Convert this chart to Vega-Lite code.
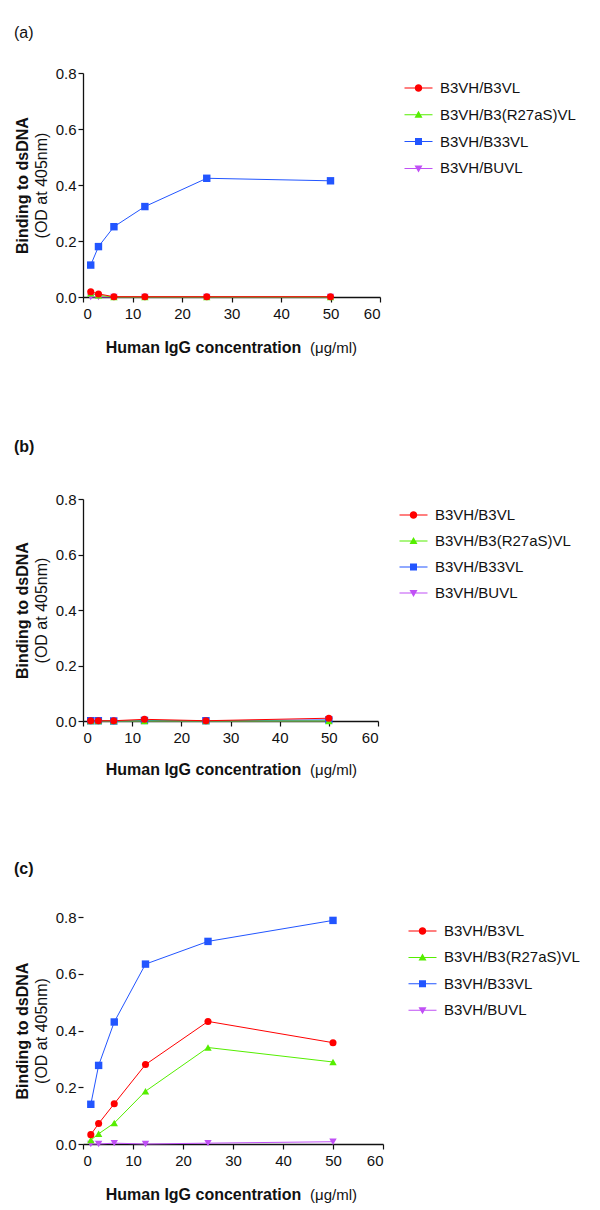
{
  "$schema": "https://vega.github.io/schema/vega-lite/v6.json",
  "background": "white",
  "padding": {"left": 14, "top": 25, "right": 5, "bottom": 5},
  "config": {
    "font": "Liberation Sans",
    "view": {"stroke": null},
    "axis": {"grid": false, "labelFontSize": 15, "labelColor": "#111", "domainColor": "#111", "tickColor": "#111", "domainWidth": 1.3, "tickWidth": 1.2, "tickSize": 5, "labelFont": "Liberation Sans", "titleFont": "Liberation Sans", "titleColor": "#111"},
    "title": {"font": "Liberation Sans", "fontSize": 16, "color": "#111", "anchor": "start", "frame": "bounds"},
    "legend": {"labelFont": "Liberation Sans", "labelFontSize": 15, "labelColor": "#111", "title": null, "orient": "none", "padding": 0, "symbolSize": 100, "symbolStrokeWidth": 0, "labelOffset": 14, "symbolOpacity": 1}
  },
  "datasets": {
    "a": [
      {"series": "B3VH/BUVL", "conc": 1.5625, "od": 0.0},
      {"series": "B3VH/BUVL", "conc": 3.125, "od": 0.0},
      {"series": "B3VH/BUVL", "conc": 6.25, "od": 0.0},
      {"series": "B3VH/BUVL", "conc": 12.5, "od": 0.0},
      {"series": "B3VH/BUVL", "conc": 25, "od": 0.0},
      {"series": "B3VH/BUVL", "conc": 50, "od": 0.0},
      {"series": "B3VH/B33VL", "conc": 1.5625, "od": 0.114},
      {"series": "B3VH/B33VL", "conc": 3.125, "od": 0.18},
      {"series": "B3VH/B33VL", "conc": 6.25, "od": 0.251},
      {"series": "B3VH/B33VL", "conc": 12.5, "od": 0.323},
      {"series": "B3VH/B33VL", "conc": 25, "od": 0.424},
      {"series": "B3VH/B33VL", "conc": 50, "od": 0.415},
      {"series": "B3VH/B3(R27aS)VL", "conc": 1.5625, "od": 0.013},
      {"series": "B3VH/B3(R27aS)VL", "conc": 3.125, "od": 0.006},
      {"series": "B3VH/B3(R27aS)VL", "conc": 6.25, "od": 0.0},
      {"series": "B3VH/B3(R27aS)VL", "conc": 12.5, "od": 0.0},
      {"series": "B3VH/B3(R27aS)VL", "conc": 25, "od": 0.0},
      {"series": "B3VH/B3(R27aS)VL", "conc": 50, "od": 0.0},
      {"series": "B3VH/B3VL", "conc": 1.5625, "od": 0.019},
      {"series": "B3VH/B3VL", "conc": 3.125, "od": 0.011},
      {"series": "B3VH/B3VL", "conc": 6.25, "od": 0.001},
      {"series": "B3VH/B3VL", "conc": 12.5, "od": 0.001},
      {"series": "B3VH/B3VL", "conc": 25, "od": 0.001},
      {"series": "B3VH/B3VL", "conc": 50, "od": 0.001}
    ],
    "b": [
      {"series": "B3VH/BUVL", "conc": 1.5625, "od": 0.0},
      {"series": "B3VH/BUVL", "conc": 3.125, "od": 0.0},
      {"series": "B3VH/BUVL", "conc": 6.25, "od": 0.0},
      {"series": "B3VH/BUVL", "conc": 12.5, "od": 0.0},
      {"series": "B3VH/BUVL", "conc": 25, "od": 0.0},
      {"series": "B3VH/BUVL", "conc": 50, "od": 0.0},
      {"series": "B3VH/B33VL", "conc": 1.5625, "od": 0.001},
      {"series": "B3VH/B33VL", "conc": 3.125, "od": 0.001},
      {"series": "B3VH/B33VL", "conc": 6.25, "od": 0.0},
      {"series": "B3VH/B33VL", "conc": 12.5, "od": 0.002},
      {"series": "B3VH/B33VL", "conc": 25, "od": 0.001},
      {"series": "B3VH/B33VL", "conc": 50, "od": 0.004},
      {"series": "B3VH/B3(R27aS)VL", "conc": 1.5625, "od": 0.0},
      {"series": "B3VH/B3(R27aS)VL", "conc": 3.125, "od": 0.0},
      {"series": "B3VH/B3(R27aS)VL", "conc": 6.25, "od": 0.0},
      {"series": "B3VH/B3(R27aS)VL", "conc": 12.5, "od": 0.0},
      {"series": "B3VH/B3(R27aS)VL", "conc": 25, "od": 0.0},
      {"series": "B3VH/B3(R27aS)VL", "conc": 50, "od": 0.0},
      {"series": "B3VH/B3VL", "conc": 1.5625, "od": 0.001},
      {"series": "B3VH/B3VL", "conc": 3.125, "od": 0.001},
      {"series": "B3VH/B3VL", "conc": 6.25, "od": 0.001},
      {"series": "B3VH/B3VL", "conc": 12.5, "od": 0.006},
      {"series": "B3VH/B3VL", "conc": 25, "od": 0.001},
      {"series": "B3VH/B3VL", "conc": 50, "od": 0.01}
    ],
    "c": [
      {"series": "B3VH/BUVL", "conc": 1.5625, "od": 0.0},
      {"series": "B3VH/BUVL", "conc": 3.125, "od": 0.0},
      {"series": "B3VH/BUVL", "conc": 6.25, "od": 0.003},
      {"series": "B3VH/BUVL", "conc": 12.5, "od": 0.0},
      {"series": "B3VH/BUVL", "conc": 25, "od": 0.003},
      {"series": "B3VH/BUVL", "conc": 50, "od": 0.008},
      {"series": "B3VH/B33VL", "conc": 1.5625, "od": 0.14},
      {"series": "B3VH/B33VL", "conc": 3.125, "od": 0.277},
      {"series": "B3VH/B33VL", "conc": 6.25, "od": 0.43},
      {"series": "B3VH/B33VL", "conc": 12.5, "od": 0.634},
      {"series": "B3VH/B33VL", "conc": 25, "od": 0.714},
      {"series": "B3VH/B33VL", "conc": 50, "od": 0.788},
      {"series": "B3VH/B3(R27aS)VL", "conc": 1.5625, "od": 0.014},
      {"series": "B3VH/B3(R27aS)VL", "conc": 3.125, "od": 0.036},
      {"series": "B3VH/B3(R27aS)VL", "conc": 6.25, "od": 0.074},
      {"series": "B3VH/B3(R27aS)VL", "conc": 12.5, "od": 0.186},
      {"series": "B3VH/B3(R27aS)VL", "conc": 25, "od": 0.34},
      {"series": "B3VH/B3(R27aS)VL", "conc": 50, "od": 0.289},
      {"series": "B3VH/B3VL", "conc": 1.5625, "od": 0.033},
      {"series": "B3VH/B3VL", "conc": 3.125, "od": 0.072},
      {"series": "B3VH/B3VL", "conc": 6.25, "od": 0.142},
      {"series": "B3VH/B3VL", "conc": 12.5, "od": 0.28},
      {"series": "B3VH/B3VL", "conc": 25, "od": 0.432},
      {"series": "B3VH/B3VL", "conc": 50, "od": 0.357}
    ]
  },
  "spacing": 84,
  "resolve": {"scale": {"color": "independent", "shape": "independent", "fill": "independent", "stroke": "independent"}, "legend": {"color": "independent", "shape": "independent", "fill": "independent", "stroke": "independent"}},
  "vconcat": [
    {
      "title": {"text": "(a)", "fontWeight": "normal", "offset": 25},
      "width": 297, "height": 224,
      "data": {"name": "a"},
      "resolve": {"axis": {"x": "independent", "y": "independent"}},
      "layer": [
        {
          "mark": {"type": "line", "strokeWidth": 1},
          "encoding": {
            "x": {"field": "conc", "type": "quantitative", "scale": {"domain": [0, 60], "nice": false}, "axis": {"values": [0, 10, 20, 30, 40, 50, 60], "labelPadding": 4, "title": "Human IgG concentration", "titleFontSize": 16, "titleFontWeight": "bold", "titleX": 120, "titleY": 55, "titleBaseline": "alphabetic"}},
            "y": {"field": "od", "type": "quantitative", "scale": {"domain": [0, 0.8], "nice": false}, "axis": {"values": [0, 0.2, 0.4, 0.6, 0.8], "format": ".1f", "labelPadding": 2, "title": "(OD at 405nm)", "titleFontSize": 16, "titleFontWeight": "normal", "titlePadding": 6}},
            "stroke": {"field": "series", "type": "nominal", "scale": {"domain": ["B3VH/BUVL", "B3VH/B33VL", "B3VH/B3(R27aS)VL", "B3VH/B3VL"], "range": ["#c050f5", "#2255ff", "#55ee00", "#ff0000"]}, "legend": null}
          }
        },
        {
          "transform": [{"filter": "datum.series == 'B3VH/BUVL'"}],
          "mark": {"type": "point", "filled": true, "opacity": 1, "size": 55, "shape": "triangle-down"},
          "encoding": {
            "x": {"field": "conc", "type": "quantitative", "axis": null},
            "y": {"field": "od", "type": "quantitative", "axis": null},
            "fill": {"field": "series", "type": "nominal", "scale": {"domain": ["B3VH/B33VL", "B3VH/B3VL", "B3VH/BUVL", "B3VH/B3(R27aS)VL"], "range": ["#2255ff", "#ff0000", "#c050f5", "#55ee00"]}, "legend": null}
          }
        },
        {
          "transform": [{"filter": "datum.series == 'B3VH/B33VL'"}],
          "mark": {"type": "point", "filled": true, "opacity": 1, "size": 55, "shape": "square"},
          "encoding": {
            "x": {"field": "conc", "type": "quantitative", "axis": null},
            "y": {"field": "od", "type": "quantitative", "axis": null},
            "fill": {"field": "series", "type": "nominal", "legend": null}
          }
        },
        {
          "transform": [{"filter": "datum.series == 'B3VH/B3(R27aS)VL'"}],
          "mark": {"type": "point", "filled": true, "opacity": 1, "size": 55, "shape": "triangle-up"},
          "encoding": {
            "x": {"field": "conc", "type": "quantitative", "axis": null},
            "y": {"field": "od", "type": "quantitative", "axis": null},
            "fill": {"field": "series", "type": "nominal", "legend": null}
          }
        },
        {
          "transform": [{"filter": "datum.series == 'B3VH/B3VL'"}],
          "mark": {"type": "point", "filled": true, "opacity": 1, "size": 50, "shape": "circle"},
          "encoding": {
            "x": {"field": "conc", "type": "quantitative", "axis": null},
            "y": {"field": "od", "type": "quantitative", "axis": null},
            "fill": {"field": "series", "type": "nominal", "legend": null}
          }
        },
        {
          "transform": [{"filter": "false"}],
          "mark": {"type": "point", "filled": true, "opacity": 1},
          "encoding": {
            "x": {"field": "conc", "type": "quantitative", "axis": {"orient": "bottom", "labels": false, "ticks": false, "domain": false, "title": "(μg/ml)", "titleFontSize": 15, "titleFontWeight": "normal", "titleX": 250, "titleY": 55, "titleBaseline": "alphabetic"}},
            "y": {"field": "od", "type": "quantitative", "axis": {"orient": "left", "labels": false, "ticks": false, "domain": false, "title": "Binding to dsDNA", "titleFontSize": 16, "titleFontWeight": "bold", "titlePadding": 53}},
            "color": {"field": "series", "type": "nominal", "scale": {"domain": ["B3VH/B3VL", "B3VH/B3(R27aS)VL", "B3VH/B33VL", "B3VH/BUVL"], "range": ["#ff0000", "#55ee00", "#2255ff", "#c050f5"]}, "legend": {"legendX": 328, "legendY": 7.5, "rowPadding": 10.8}},
            "shape": {"field": "series", "type": "nominal", "scale": {"domain": ["B3VH/B3VL", "B3VH/B3(R27aS)VL", "B3VH/B33VL", "B3VH/BUVL"], "range": ["M-2.8,-0.1H2.8V0.1H-2.8ZM0.75,0A0.75,0.75,0,1,1,-0.75,0A0.75,0.75,0,1,1,0.75,0Z", "M-2.8,-0.1H2.8V0.1H-2.8ZM0,-0.8L0.8,0.6L-0.8,0.6Z", "M-2.8,-0.1H2.8V0.1H-2.8ZM-0.7,-0.7H0.7V0.7H-0.7Z", "M-2.8,-0.1H2.8V0.1H-2.8ZM0,0.8L-0.8,-0.6L0.8,-0.6Z"]}, "legend": {"legendX": 328, "legendY": 7.5, "rowPadding": 10.8}}
          }
        }
      ]
    },
    {
      "title": {"text": "(b)", "fontWeight": "bold", "offset": 37},
      "width": 295, "height": 222,
      "data": {"name": "b"},
      "resolve": {"axis": {"x": "independent", "y": "independent"}},
      "layer": [
        {
          "mark": {"type": "line", "strokeWidth": 1},
          "encoding": {
            "x": {"field": "conc", "type": "quantitative", "scale": {"domain": [0, 60], "nice": false}, "axis": {"values": [0, 10, 20, 30, 40, 50, 60], "labelPadding": 4, "title": "Human IgG concentration", "titleFontSize": 16, "titleFontWeight": "bold", "titleX": 120, "titleY": 53, "titleBaseline": "alphabetic"}},
            "y": {"field": "od", "type": "quantitative", "scale": {"domain": [0, 0.8], "nice": false}, "axis": {"values": [0, 0.2, 0.4, 0.6, 0.8], "format": ".1f", "labelPadding": 2, "title": "(OD at 405nm)", "titleFontSize": 16, "titleFontWeight": "normal", "titlePadding": 6}},
            "stroke": {"field": "series", "type": "nominal", "scale": {"domain": ["B3VH/BUVL", "B3VH/B33VL", "B3VH/B3(R27aS)VL", "B3VH/B3VL"], "range": ["#c050f5", "#2255ff", "#55ee00", "#ff0000"]}, "legend": null}
          }
        },
        {
          "transform": [{"filter": "datum.series == 'B3VH/BUVL'"}],
          "mark": {"type": "point", "filled": true, "opacity": 1, "size": 55, "shape": "triangle-down"},
          "encoding": {
            "x": {"field": "conc", "type": "quantitative", "axis": null},
            "y": {"field": "od", "type": "quantitative", "axis": null},
            "fill": {"field": "series", "type": "nominal", "scale": {"domain": ["B3VH/B33VL", "B3VH/B3VL", "B3VH/BUVL", "B3VH/B3(R27aS)VL"], "range": ["#2255ff", "#ff0000", "#c050f5", "#55ee00"]}, "legend": null}
          }
        },
        {
          "transform": [{"filter": "datum.series == 'B3VH/B33VL'"}],
          "mark": {"type": "point", "filled": true, "opacity": 1, "size": 55, "shape": "square"},
          "encoding": {
            "x": {"field": "conc", "type": "quantitative", "axis": null},
            "y": {"field": "od", "type": "quantitative", "axis": null},
            "fill": {"field": "series", "type": "nominal", "legend": null}
          }
        },
        {
          "transform": [{"filter": "datum.series == 'B3VH/B3(R27aS)VL'"}],
          "mark": {"type": "point", "filled": true, "opacity": 1, "size": 55, "shape": "triangle-up"},
          "encoding": {
            "x": {"field": "conc", "type": "quantitative", "axis": null},
            "y": {"field": "od", "type": "quantitative", "axis": null},
            "fill": {"field": "series", "type": "nominal", "legend": null}
          }
        },
        {
          "transform": [{"filter": "datum.series == 'B3VH/B3VL'"}],
          "mark": {"type": "point", "filled": true, "opacity": 1, "size": 50, "shape": "circle"},
          "encoding": {
            "x": {"field": "conc", "type": "quantitative", "axis": null},
            "y": {"field": "od", "type": "quantitative", "axis": null},
            "fill": {"field": "series", "type": "nominal", "legend": null}
          }
        },
        {
          "transform": [{"filter": "false"}],
          "mark": {"type": "point", "filled": true, "opacity": 1},
          "encoding": {
            "x": {"field": "conc", "type": "quantitative", "axis": {"orient": "bottom", "labels": false, "ticks": false, "domain": false, "title": "(μg/ml)", "titleFontSize": 15, "titleFontWeight": "normal", "titleX": 250, "titleY": 53, "titleBaseline": "alphabetic"}},
            "y": {"field": "od", "type": "quantitative", "axis": {"orient": "left", "labels": false, "ticks": false, "domain": false, "title": "Binding to dsDNA", "titleFontSize": 16, "titleFontWeight": "bold", "titlePadding": 53}},
            "color": {"field": "series", "type": "nominal", "scale": {"domain": ["B3VH/B3VL", "B3VH/B3(R27aS)VL", "B3VH/B33VL", "B3VH/BUVL"], "range": ["#ff0000", "#55ee00", "#2255ff", "#c050f5"]}, "legend": {"legendX": 323, "legendY": 8.5, "rowPadding": 10}},
            "shape": {"field": "series", "type": "nominal", "scale": {"domain": ["B3VH/B3VL", "B3VH/B3(R27aS)VL", "B3VH/B33VL", "B3VH/BUVL"], "range": ["M-2.8,-0.1H2.8V0.1H-2.8ZM0.75,0A0.75,0.75,0,1,1,-0.75,0A0.75,0.75,0,1,1,0.75,0Z", "M-2.8,-0.1H2.8V0.1H-2.8ZM0,-0.8L0.8,0.6L-0.8,0.6Z", "M-2.8,-0.1H2.8V0.1H-2.8ZM-0.7,-0.7H0.7V0.7H-0.7Z", "M-2.8,-0.1H2.8V0.1H-2.8ZM0,0.8L-0.8,-0.6L0.8,-0.6Z"]}, "legend": {"legendX": 323, "legendY": 8.5, "rowPadding": 10}}
          }
        }
      ]
    },
    {
      "title": {"text": "(c)", "fontWeight": "bold", "offset": 33},
      "width": 300, "height": 227,
      "data": {"name": "c"},
      "resolve": {"axis": {"x": "independent", "y": "independent"}},
      "layer": [
        {
          "mark": {"type": "line", "strokeWidth": 1},
          "encoding": {
            "x": {"field": "conc", "type": "quantitative", "scale": {"domain": [0, 60], "nice": false}, "axis": {"values": [0, 10, 20, 30, 40, 50, 60], "labelPadding": 4, "title": "Human IgG concentration", "titleFontSize": 16, "titleFontWeight": "bold", "titleX": 120, "titleY": 55, "titleBaseline": "alphabetic"}},
            "y": {"field": "od", "type": "quantitative", "scale": {"domain": [0, 0.8], "nice": false}, "axis": {"values": [0, 0.2, 0.4, 0.6, 0.8], "format": ".1f", "labelPadding": 2, "domain": false, "title": "(OD at 405nm)", "titleFontSize": 16, "titleFontWeight": "normal", "titlePadding": 6}},
            "stroke": {"field": "series", "type": "nominal", "scale": {"domain": ["B3VH/BUVL", "B3VH/B33VL", "B3VH/B3(R27aS)VL", "B3VH/B3VL"], "range": ["#c050f5", "#2255ff", "#55ee00", "#ff0000"]}, "legend": null}
          }
        },
        {
          "transform": [{"filter": "datum.series == 'B3VH/BUVL'"}],
          "mark": {"type": "point", "filled": true, "opacity": 1, "size": 55, "shape": "triangle-down"},
          "encoding": {
            "x": {"field": "conc", "type": "quantitative", "axis": null},
            "y": {"field": "od", "type": "quantitative", "axis": null},
            "fill": {"field": "series", "type": "nominal", "scale": {"domain": ["B3VH/B33VL", "B3VH/B3VL", "B3VH/BUVL", "B3VH/B3(R27aS)VL"], "range": ["#2255ff", "#ff0000", "#c050f5", "#55ee00"]}, "legend": null}
          }
        },
        {
          "transform": [{"filter": "datum.series == 'B3VH/B33VL'"}],
          "mark": {"type": "point", "filled": true, "opacity": 1, "size": 55, "shape": "square"},
          "encoding": {
            "x": {"field": "conc", "type": "quantitative", "axis": null},
            "y": {"field": "od", "type": "quantitative", "axis": null},
            "fill": {"field": "series", "type": "nominal", "legend": null}
          }
        },
        {
          "transform": [{"filter": "datum.series == 'B3VH/B3(R27aS)VL'"}],
          "mark": {"type": "point", "filled": true, "opacity": 1, "size": 55, "shape": "triangle-up"},
          "encoding": {
            "x": {"field": "conc", "type": "quantitative", "axis": null},
            "y": {"field": "od", "type": "quantitative", "axis": null},
            "fill": {"field": "series", "type": "nominal", "legend": null}
          }
        },
        {
          "transform": [{"filter": "datum.series == 'B3VH/B3VL'"}],
          "mark": {"type": "point", "filled": true, "opacity": 1, "size": 50, "shape": "circle"},
          "encoding": {
            "x": {"field": "conc", "type": "quantitative", "axis": null},
            "y": {"field": "od", "type": "quantitative", "axis": null},
            "fill": {"field": "series", "type": "nominal", "legend": null}
          }
        },
        {
          "transform": [{"filter": "false"}],
          "mark": {"type": "point", "filled": true, "opacity": 1},
          "encoding": {
            "x": {"field": "conc", "type": "quantitative", "axis": {"orient": "bottom", "labels": false, "ticks": false, "domain": false, "title": "(μg/ml)", "titleFontSize": 15, "titleFontWeight": "normal", "titleX": 250, "titleY": 55, "titleBaseline": "alphabetic"}},
            "y": {"field": "od", "type": "quantitative", "axis": {"orient": "left", "labels": false, "ticks": false, "domain": false, "title": "Binding to dsDNA", "titleFontSize": 16, "titleFontWeight": "bold", "titlePadding": 53}},
            "color": {"field": "series", "type": "nominal", "scale": {"domain": ["B3VH/B3VL", "B3VH/B3(R27aS)VL", "B3VH/B33VL", "B3VH/BUVL"], "range": ["#ff0000", "#55ee00", "#2255ff", "#c050f5"]}, "legend": {"legendX": 332, "legendY": 6.5, "rowPadding": 10.4}},
            "shape": {"field": "series", "type": "nominal", "scale": {"domain": ["B3VH/B3VL", "B3VH/B3(R27aS)VL", "B3VH/B33VL", "B3VH/BUVL"], "range": ["M-2.8,-0.1H2.8V0.1H-2.8ZM0.75,0A0.75,0.75,0,1,1,-0.75,0A0.75,0.75,0,1,1,0.75,0Z", "M-2.8,-0.1H2.8V0.1H-2.8ZM0,-0.8L0.8,0.6L-0.8,0.6Z", "M-2.8,-0.1H2.8V0.1H-2.8ZM-0.7,-0.7H0.7V0.7H-0.7Z", "M-2.8,-0.1H2.8V0.1H-2.8ZM0,0.8L-0.8,-0.6L0.8,-0.6Z"]}, "legend": {"legendX": 332, "legendY": 6.5, "rowPadding": 10.4}}
          }
        }
      ]
    }
  ]
}
